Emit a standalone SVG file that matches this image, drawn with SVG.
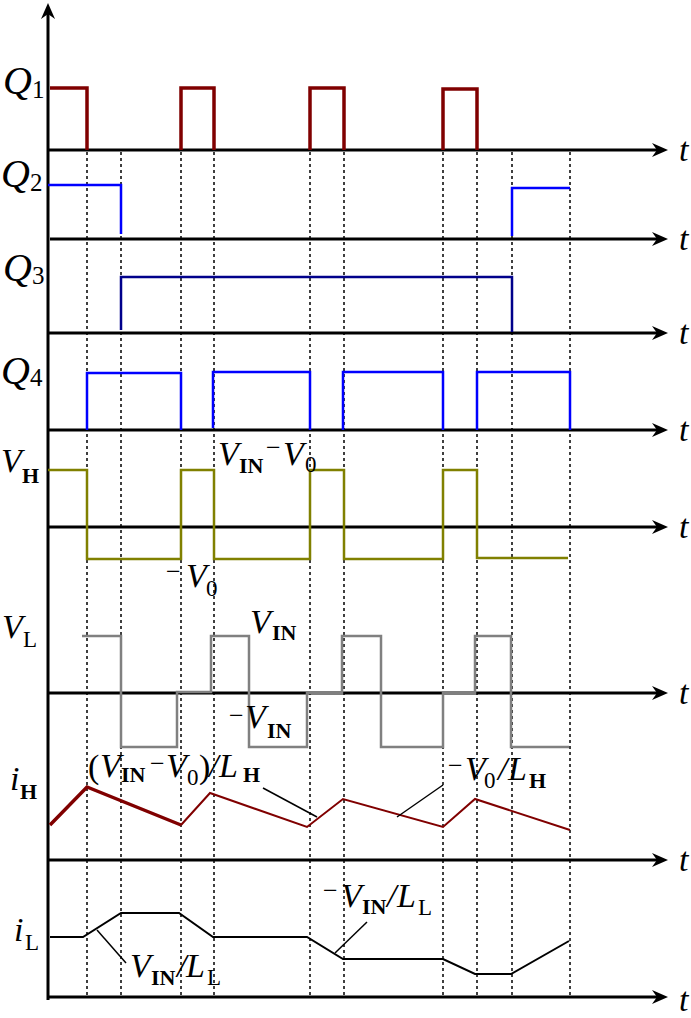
<svg xmlns="http://www.w3.org/2000/svg" width="691" height="1018" viewBox="0 0 691 1018">
<style>
.ax{stroke:#000;stroke-width:3;fill:none}
.dot{stroke:#000;stroke-width:1.5;stroke-dasharray:3 3;fill:none}
.w{fill:none;stroke-linejoin:miter}
.ld{stroke:#000;stroke-width:1.5;fill:none}
text{font-family:"Liberation Serif","Times New Roman",serif;fill:#000}
.m{font-size:34px;font-style:italic}
.q{font-size:40px;font-style:italic}
.u{font-size:34px}
.sb{font-size:22px;font-weight:bold;font-style:normal}
.sr{font-size:23px;font-style:normal}
.sd{font-size:25px;font-style:normal}
.mn{font-size:26px;font-style:normal}
</style>
<defs>
<marker id="arr" markerUnits="userSpaceOnUse" markerWidth="18" markerHeight="16" refX="6" refY="7" orient="auto" overflow="visible">
<path d="M16,7 L0,0 L5,7 L0,14 Z" fill="#000"/>
</marker>
</defs>
<rect width="691" height="1018" fill="#fff"/>
<g id="grid">
<path class="dot" d="M87,152V997M121,152V997M181,152V997M214,152V997M310,152V997M344,152V997M443,152V997M477,152V997M512,152V997M570,152V997"/>
</g>
<g id="axes">
<line class="ax" x1="48" y1="1000" x2="48" y2="13" marker-end="url(#arr)"/>
<line class="ax" x1="48" y1="150" x2="658" y2="150" marker-end="url(#arr)"/>
<line class="ax" x1="50" y1="239" x2="658" y2="239" marker-end="url(#arr)"/>
<line class="ax" x1="48" y1="333" x2="658" y2="333" marker-end="url(#arr)"/>
<line class="ax" x1="48" y1="430" x2="658" y2="430" marker-end="url(#arr)"/>
<line class="ax" x1="48" y1="527" x2="658" y2="527" marker-end="url(#arr)"/>
<line class="ax" x1="48" y1="693" x2="658" y2="693" marker-end="url(#arr)"/>
<line class="ax" x1="48" y1="860" x2="658" y2="860" marker-end="url(#arr)"/>
<line class="ax" x1="48" y1="997" x2="658" y2="997" marker-end="url(#arr)"/>
<text class="m" x="679" y="161">t</text>
<text class="m" x="679" y="250">t</text>
<text class="m" x="679" y="344">t</text>
<text class="m" x="679" y="441">t</text>
<text class="m" x="679" y="538">t</text>
<text class="m" x="679" y="704">t</text>
<text class="m" x="679" y="871">t</text>
<text class="m" x="679" y="1011">t</text>
</g>
<g id="Q1">
<path class="w" stroke="#800000" stroke-width="3.5" d="M50,88H87V150M181,150V88H214V150M310,150V88H344V150M443,150V89H477V150"/>
<text class="q" x="3" y="94">Q<tspan class="sd" x="32" y="98">1</tspan></text>
</g>
<g id="Q2">
<path class="w" stroke="#0000ff" stroke-width="2.5" d="M48,185H121V234M512,236V188H570"/>
<text class="q" x="1" y="187">Q<tspan class="sd" x="30" y="191">2</tspan></text>
</g>
<g id="Q3">
<path class="w" stroke="#00008b" stroke-width="2.5" d="M121,330V277H512V332"/>
<text class="q" x="3" y="281">Q<tspan class="sd" x="32" y="284">3</tspan></text>
</g>
<g id="Q4">
<path class="w" stroke="#0000ff" stroke-width="2.5" d="M87,430V373H181V430M213,428V372H310V430M343,430V372H443V430M477,430V372H570V430"/>
<text class="q" x="1" y="384">Q<tspan class="sd" x="30" y="386">4</tspan></text>
</g>
<g id="VH">
<path class="w" stroke="#808000" stroke-width="2.5" d="M48,470H87V559H181V470H214V559H310V470H344V559H443V470H477V558H568"/>
<text class="m" x="1" y="472">V<tspan class="sb" x="22" y="483">H</tspan></text>
<text class="m" x="218" y="465">V<tspan class="sb" x="239" y="473">IN</tspan><tspan class="mn" x="266" y="456">−</tspan><tspan x="283" y="465">V</tspan><tspan class="sr" x="305" y="472">0</tspan></text>
<text class="m" x="166" y="580"><tspan class="mn">−</tspan><tspan x="186" y="587">V</tspan><tspan class="sr" x="206" y="596">0</tspan></text>
</g>
<g id="VL">
<path class="w" stroke="#808080" stroke-width="2.5" d="M82,636H121V747H177V692H211V636H249V747H307V693H342V636H381V747H443V693H475V636H511V747H569"/>
<text class="m" x="2" y="638">V<tspan class="sr" x="23" y="647">L</tspan></text>
<text class="m" x="250" y="633">V<tspan class="sb" x="272" y="640">IN</tspan></text>
<text class="m" x="229" y="724"><tspan class="mn">−</tspan><tspan x="245" y="728">V</tspan><tspan class="sb" x="267" y="738">IN</tspan></text>
</g>
<g id="iH">
<path class="w" stroke="#800000" stroke-width="3.5" d="M50,825L87,787L181,825"/>
<path class="w" stroke="#800000" stroke-width="2" d="M181,825L210,793L307,827L343,799L443,827L475,799L570,830"/>
<text class="m" x="10" y="790">i<tspan class="sb" x="20" y="799">H</tspan></text>
<text class="u" x="88" y="778">(<tspan class="m" x="100" y="777">V</tspan><tspan class="sb" x="121" y="782">IN</tspan><tspan class="mn" x="150" y="772">−</tspan><tspan class="m" x="166" y="777">V</tspan><tspan class="sr" x="187" y="785">0</tspan><tspan x="199" y="778">)</tspan><tspan class="m" x="209" y="777">/</tspan><tspan class="m" x="219" y="777">L</tspan><tspan class="sb" x="243" y="782">H</tspan></text>
<text class="m" x="448" y="774"><tspan class="mn">−</tspan><tspan x="465" y="780">V</tspan><tspan class="sr" x="484" y="788">0</tspan><tspan x="498" y="780">/</tspan><tspan x="508" y="780">L</tspan><tspan class="sb" x="529" y="788">H</tspan></text>
</g>
<g id="iL">
<path class="w" stroke="#000" stroke-width="2" d="M50,937H83L121,913H179L213,937H307L343,959H443L475,974H511L569,941"/>
<text class="m" x="14" y="941">i<tspan class="sr" x="25" y="950">L</tspan></text>
<text class="m" x="130" y="977">V<tspan class="sb" x="151" y="985">IN</tspan><tspan x="177" y="977">/</tspan><tspan x="186" y="977">L</tspan><tspan class="sr" x="207" y="985">L</tspan></text>
<text class="m" x="323" y="899"><tspan class="mn">−</tspan><tspan x="341" y="907">V</tspan><tspan class="sb" x="362" y="914">IN</tspan><tspan x="387" y="907">/</tspan><tspan x="397" y="907">L</tspan><tspan class="sr" x="418" y="915">L</tspan></text>
</g>
<g id="connectors">
<line class="ld" x1="263" y1="788" x2="317" y2="817"/>
<line class="ld" x1="443" y1="785" x2="397" y2="817"/>
<line class="ld" x1="97" y1="930" x2="126" y2="963"/>
<line class="ld" x1="367" y1="922" x2="335" y2="953"/>
</g>
</svg>
